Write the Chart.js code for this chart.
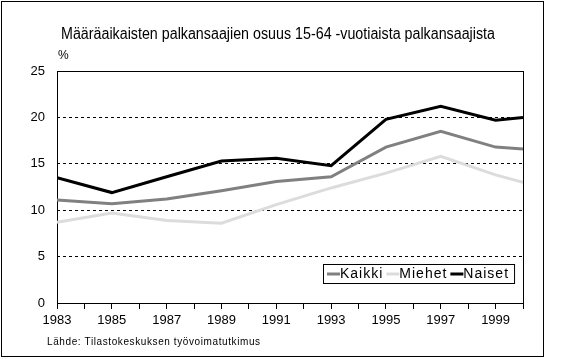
<!DOCTYPE html>
<html>
<head>
<meta charset="utf-8">
<script src="https://cdn.jsdelivr.net/npm/chart.js@4"></script>
<style>
  body { margin: 0; background: #fff; }
  #wrap { width: 571px; height: 359px; }
</style>
</head>
<body>
<div id="wrap"><canvas id="chart" width="571" height="359"></canvas></div>
<script>
// Data
const years = [1983, 1985, 1987, 1989, 1991, 1993, 1995, 1997, 1999, 2000];
const kaikki = [11.1, 10.7, 11.2, 12.1, 13.1, 13.6, 16.8, 18.5, 16.8, 16.6];
const miehet = [8.7, 9.7, 8.9, 8.6, 10.6, 12.4, 14.0, 15.8, 13.8, 13.0];
const naiset = [13.5, 11.9, 13.6, 15.3, 15.6, 14.8, 19.8, 21.2, 19.7, 20.0];
const yTicks = [0, 5, 10, 15, 20, 25];
const xLabels = ['1983', '1985', '1987', '1989', '1991', '1993', '1995', '1997', '1999'];

const titleText = 'Määräaikaisten palkansaajien osuus 15-64 -vuotiaista palkansaajista';
const unitText = '%';
const sourceText = 'Lähde: Tilastokeskuksen työvoimatutkimus';
const FONT = '"Liberation Sans", Arial, sans-serif';

const toPoints = vals => vals.map((v, i) => ({ x: years[i], y: v }));

// Frame, texts and legend drawn on top of the library's layout
const decorations = {
    id: 'decorations',
    beforeDatasetsDraw(chart) {
        const { ctx, chartArea: a } = chart;
        ctx.save();
        ctx.strokeStyle = '#000';
        ctx.lineWidth = 1;
        ctx.strokeRect(Math.round(a.left) + 0.5, Math.round(a.top) + 0.5,
            Math.round(a.right - a.left), Math.round(a.bottom - a.top));
        ctx.restore();
    },
    afterDraw(chart) {
        const { ctx } = chart;
        ctx.save();
        // outer frame
        ctx.strokeStyle = '#000';
        ctx.lineWidth = 1;
        ctx.strokeRect(1.5, 1.5, 542, 355);

        ctx.fillStyle = '#000';
        ctx.textBaseline = 'middle';
        ctx.textAlign = 'left';

        // title, slightly condensed like the original
        ctx.font = '16px ' + FONT;
        const tw = ctx.measureText(titleText).width;
        ctx.save();
        ctx.translate(61, 35);
        ctx.scale(434 / tw, 1);
        ctx.fillText(titleText, 0, 0);
        ctx.restore();

        ctx.font = '12px ' + FONT;
        ctx.fillText(unitText, 58, 56);

        ctx.font = '10px ' + FONT;
        ctx.letterSpacing = '0.6px';
        ctx.fillText(sourceText, 47, 342);

        // legend
        ctx.font = '14px ' + FONT;
        ctx.letterSpacing = '1px';
        const boxL = 323, boxT = 264, boxH = 19;
        let x = boxL + 4;
        const items = chart.data.datasets.map(ds => ({ label: ds.label, color: ds.borderColor }));
        const positions = items.map(it => {
            const p = x;
            x += 13 + ctx.measureText(it.label).width + 3;
            return p;
        });
        const boxW = x - boxL + 2;
        ctx.fillStyle = '#fff';
        ctx.fillRect(boxL, boxT, boxW, boxH);
        ctx.strokeStyle = '#000';
        ctx.lineWidth = 1;
        ctx.strokeRect(boxL + 0.5, boxT + 0.5, boxW, boxH);
        items.forEach((it, i) => {
            const px = positions[i];
            ctx.strokeStyle = it.color;
            ctx.lineWidth = 3;
            ctx.beginPath();
            ctx.moveTo(px, boxT + boxH / 2 + 0.5);
            ctx.lineTo(px + 13, boxT + boxH / 2 + 0.5);
            ctx.stroke();
            ctx.fillStyle = '#000';
            ctx.fillText(it.label, px + 13, boxT + boxH / 2 + 1);
        });
        ctx.restore();
    }
};

new Chart(document.getElementById('chart').getContext('2d'), {
    type: 'line',
    data: {
        datasets: [
            { label: 'Kaikki', data: toPoints(kaikki), borderColor: '#808080' },
            { label: 'Miehet', data: toPoints(miehet), borderColor: '#dcdcdc' },
            { label: 'Naiset', data: toPoints(naiset), borderColor: '#000000' }
        ]
    },
    options: {
        responsive: false,
        animation: false,
        layout: { padding: { left: 0, right: 48, top: 71, bottom: 0 } },
        elements: {
            line: { borderWidth: 3, tension: 0, borderCapStyle: 'butt', borderJoinStyle: 'miter' },
            point: { radius: 0 }
        },
        plugins: {
            legend: { display: false },
            title: { display: false },
            tooltip: { enabled: false }
        },
        scales: {
            x: {
                type: 'linear',
                min: 1983,
                max: 2000,
                afterFit: s => { s.height = 56; },
                afterBuildTicks: s => {
                    const t = [];
                    for (let y = 1983; y <= 2000; y++) t.push({ value: y });
                    s.ticks = t;
                },
                border: { display: false },
                grid: {
                    drawOnChartArea: false,
                    drawTicks: true,
                    tickLength: 6,
                    tickColor: '#000',
                    color: '#000'
                },
                ticks: {
                    autoSkip: false,
                    maxRotation: 0,
                    padding: 4,
                    color: '#000',
                    font: { family: FONT, size: 13 },
                    callback: v => xLabels.includes(String(v)) ? String(v) : ''
                }
            },
            y: {
                min: 0,
                max: 25,
                afterFit: s => { s.width = 57; },
                afterBuildTicks: s => { s.ticks = yTicks.map(v => ({ value: v })); },
                border: { display: false, dash: [3, 3] },
                grid: {
                    drawTicks: false,
                    color: c => (c.tick.value === 0 || c.tick.value === 25) ? 'rgba(0,0,0,0)' : '#000',
                    lineWidth: 1
                },
                ticks: {
                    padding: 12,
                    color: '#000',
                    font: { family: FONT, size: 13 }
                }
            }
        }
    },
    plugins: [decorations]
});
</script>
</body>
</html>
